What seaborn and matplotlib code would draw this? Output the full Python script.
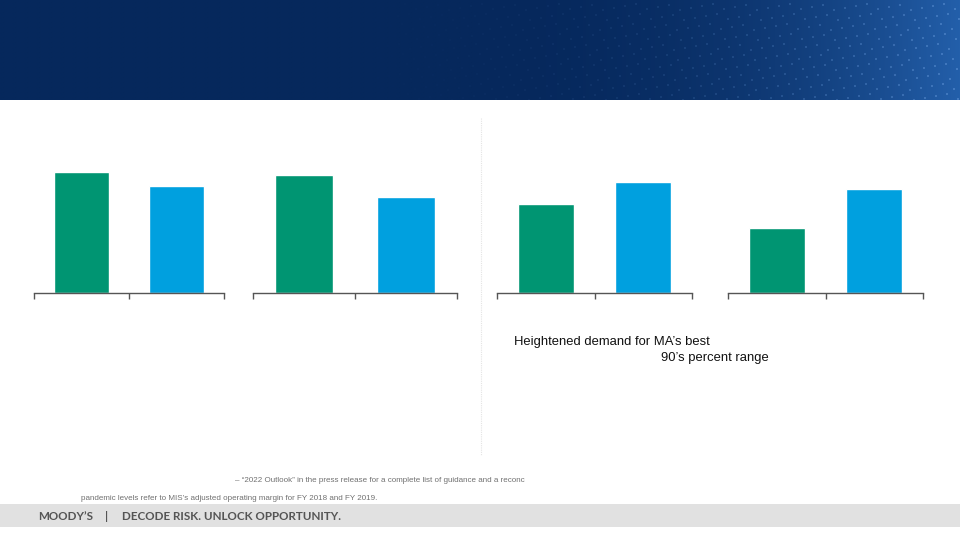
import numpy as np
import pandas as pd
import matplotlib
matplotlib.use("Agg")
import matplotlib.pyplot as plt
import seaborn as sns

sns.set_theme(style="white")
plt.rcParams['font.family'] = ['Liberation Sans', 'DejaVu Sans']

# ---- data (bar heights, arbitrary units) ----
categories = ["Prior", "Outlook"]
chart1_values = [121, 107]
chart2_values = [118, 96]
chart3_values = [89, 111]
chart4_values = [65, 104]
bar_colors = ["#009572", "#00A0DF"]

W, H = 960, 540
fig = plt.figure(figsize=(9.6, 5.4), dpi=100)

def fx(x):
    return x / W

def fy(y):
    return 1 - y / H

# ---- header banner ----
hdr = fig.add_axes([0, fy(100), 1, 100 / H])
t = np.linspace(0, 1, 400)
grad = np.clip((t - 0.5) / 0.5, 0, 1) ** 2.2
c0 = np.array([6, 40, 92]) / 255
c1 = np.array([35, 95, 170]) / 255
img = c0[None, None, :] + (c1 - c0)[None, None, :] * grad[None, :, None]
img = np.repeat(img, 20, axis=0)
hdr.imshow(img, aspect="auto", extent=[0, 960, 100, 0])
# subtle dot texture, denser toward the right
gx0, gy0 = np.meshgrid(np.arange(300, 960, 11), np.arange(4, 100, 10))
gx = (gx0 + (gy0 * 7) % 11).ravel()
gy = (gy0 + (gx0 * 3) % 7).ravel()
alpha = np.clip((gx - 300) / 660, 0, 1) ** 2 * 0.45
cols = np.zeros((len(gx), 4)); cols[:, :3] = [0.45, 0.65, 0.9]; cols[:, 3] = alpha
hdr.scatter(gx, gy, s=2.5, c=cols, linewidths=0)
hdr.set_xlim(0, 960); hdr.set_ylim(100, 0)
hdr.axis("off")

# ---- footer bar ----
ftr = fig.add_axes([0, fy(527), 1, 23 / H])
ftr.set_facecolor("#E1E1E1")
ftr.set_xticks([]); ftr.set_yticks([])
for s in ftr.spines.values():
    s.set_visible(False)
ffam = ["Lato", "DejaVu Sans"]
fig.text(fx(38), fy(516), "MOODY\u2019S", fontsize=8.4, fontweight="bold", color="#555555",
         va="center", ha="left", family=ffam)
fig.text(fx(107), fy(516), "|", fontsize=8.4, fontweight="bold", color="#555555",
         va="center", ha="center", family=ffam)
fig.text(fx(122), fy(516), "DECODE RISK. UNLOCK OPPORTUNITY.", fontsize=8.4, fontweight="bold",
         color="#555555", va="center", ha="left", family=ffam)

# ---- divider ----
fig.add_artist(plt.Line2D([fx(481), fx(481)], [fy(118), fy(455)], color="#E4E4E4",
                          lw=0.8, linestyle=(0, (1, 1))))

# ---- bar charts ----
panels = [(34, 224, chart1_values), (253, 457, chart2_values),
          (497, 692, chart3_values), (728, 923, chart4_values)]
top_px, base_px = 160, 293
for x0, x1, vals in panels:
    ax = fig.add_axes([fx(x0), fy(base_px), (x1 - x0) / W, (base_px - top_px) / H])
    df = pd.DataFrame({"cat": categories, "val": vals})
    sns.barplot(data=df, x="cat", y="val", hue="cat", palette=bar_colors,
                width=0.57, legend=False, ax=ax, saturation=1)
    ax.set_xlim(-0.5, 1.5)
    ax.set_ylim(0, base_px - top_px)
    ax.set_xlabel(""); ax.set_ylabel("")
    ax.set_yticks([])
    ax.set_xticks([-0.5, 0.5, 1.5])
    ax.set_xticklabels([])
    ax.tick_params(axis="x", bottom=True, length=4, width=1, color="#555555", direction="out")
    for k in ["top", "right", "left"]:
        ax.spines[k].set_visible(False)
    ax.spines["bottom"].set_color("#555555")
    ax.spines["bottom"].set_linewidth(1)
    ax.patch.set_alpha(0)

# ---- annotation text ----
fig.text(fx(514), fy(342), "Heightened demand for MA\u2019s best", fontsize=9.4,
         color="#111111", va="center", ha="left")
fig.text(fx(769), fy(358), "90\u2019s percent range", fontsize=9.4,
         color="#111111", va="center", ha="right")

# ---- footnotes ----
fig.text(fx(235), fy(480), "\u2013 \u201c2022 Outlook\u201d in the press release for a complete list of guidance and a reconc",
         fontsize=5.75, color="#707070", va="center", ha="left")
fig.text(fx(81), fy(498), "pandemic levels refer to MIS\u2019s adjusted operating margin for FY 2018 and FY 2019.",
         fontsize=5.75, color="#707070", va="center", ha="left")

fig.savefig("out.png", dpi=100, facecolor="white")
